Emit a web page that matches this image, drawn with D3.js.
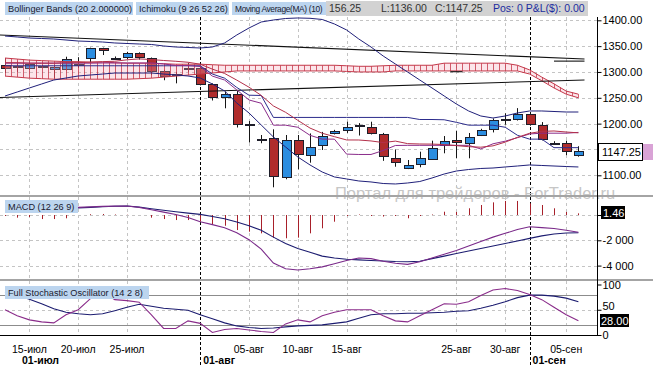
<!DOCTYPE html>
<html>
<head>
<meta charset="utf-8">
<script src="https://cdn.jsdelivr.net/npm/d3@7/dist/d3.min.js"></script>
<style>
body{margin:0;background:#fff}
#chart{display:block;font-family:"Liberation Sans",Arial,sans-serif}
</style>
</head>
<body>
<svg id="chart" width="653" height="365"></svg>
<script>
// daily bars, index 0..47
var openP=[1313.5,1311,1307,1311,1305.7,1305.7,1315,1326.5,1345.8,1327,1328.4,1336,1326.5,1302,1296,1307,1307,1276,1251,1256.8,1199,1170,1171.6,1097.3,1168.3,1140.6,1158.6,1181,1187.7,1197,1193,1179.3,1134,1114.7,1121.9,1132.9,1158.6,1168.3,1164,1178,1189,1208,1208.4,1218.6,1197.4,1163,1162,1139.5]
var highP=[1327,1320,1318,1313,1312,1329.5,1328.6,1347,1347,1330,1339,1338,1328,1304,1300,1317,1309,1278,1262,1263,1205,1178,1189,1178,1178,1181,1184,1188,1203.7,1201,1203.7,1182,1150,1129.6,1145.7,1167,1176,1186.3,1181.9,1190,1210,1220,1230,1222,1203,1166,1167,1156.25]
var lowP=[1298,1300,1304,1308,1287.7,1303,1308,1316.8,1332.8,1325,1325,1324,1294,1284,1278,1300,1274,1244.8,1229.7,1192.5,1163.5,1162,1076.8,1092.3,1111.6,1124.4,1149,1179,1182,1177,1179,1128,1116.6,1112,1115.5,1130,1142.6,1132.9,1132.9,1176,1183,1198,1206,1196,1167.5,1160,1139,1136]
var closeP=[1308.3,1310,1315,1310,1310,1324.5,1314,1345.8,1342,1327.5,1336,1328.4,1301.9,1291.6,1295,1306,1276,1251,1257.4,1198.7,1198.5,1169,1097.3,1168.3,1140.6,1155.4,1176,1185,1194,1197.5,1181,1137.4,1126.3,1120,1132.9,1153.4,1167,1164,1174.7,1187.7,1207,1209,1218.6,1198.7,1169.7,1162,1147,1147.25]

var upperBB=[1369.6,1367.7,1365.7,1364.8,1363.8,1361.9,1359.9,1359.0,1358.0,1356.1,1355.1,1354.1,1353.2,1350.3,1348.3,1347.4,1346.4,1348.3,1356.1,1371.6,1385.1,1396.7,1400.6,1403.5,1404.5,1403.9,1401.6,1392.9,1381.3,1363.8,1348.3,1330.9,1315.4,1299.9,1284.4,1269.0,1253.5,1238.0,1224.5,1214.8,1210.9,1214.8,1220.6,1224.5,1224.5,1223.5,1222.5,1222.5]
var lowerBB=[1253.5,1261.2,1269.0,1276.7,1284.4,1288.3,1292.2,1294.1,1296.0,1298.0,1298.0,1298.0,1298.0,1296.0,1294.1,1292.2,1288.3,1276.7,1263.2,1239.9,1220.6,1197.4,1174.2,1154.8,1135.5,1120.0,1106.4,1096.8,1092.9,1089.0,1087.1,1084.1,1083.2,1085.1,1088.0,1094.8,1102.5,1108.3,1111.2,1113.2,1114.1,1116.1,1118.0,1120.0,1119.0,1118.0,1117.0,1116.1]
var tenkan=[1317,1317,1317,1317,1317,1317,1317,1317,1317.4,1317.4,1317.4,1317.4,1317.4,1315.5,1312.5,1312.5,1310.5,1292,1284.4,1265.3,1245.8,1239.5,1197,1197,1193,1177.4,1170,1170,1141,1140.3,1140.3,1148,1157.7,1158,1158,1158,1158,1158,1158,1151,1161,1166,1172.8,1180,1181.5,1181.5,1181.5,1183]
var kijun=[1312,1312,1312,1312,1312,1312,1312,1312,1312,1312,1312,1312,1312,1312,1312,1312,1312,1296,1288,1270,1255,1254.5,1212,1212,1212,1212,1212,1212,1212,1212,1212,1212,1212,1212,1208,1208,1207.5,1202.5,1197,1197,1197,1193,1177.5,1170,1170,1153.5,1153.5,1153.5]
var ma10=[1318,1318,1317,1317,1317,1318,1318,1319,1320,1320.7,1323.5,1325.3,1324,1322.2,1320.7,1318.8,1315,1305.5,1297.1,1284.2,1270.5,1254.7,1234.2,1221.9,1206.4,1191.4,1181.4,1174.8,1168.4,1168.3,1166.5,1163.3,1166.2,1161.3,1160.6,1160.4,1159.5,1157.4,1155.4,1154.4,1157,1164.2,1173.4,1181.3,1185,1185.8,1183.8,1182.2]
var cloudA=[1327,1325,1323,1322,1321,1320,1320,1319,1319,1318,1317,1317,1317,1316,1315,1315,1315,1314,1313,1313,1313,1313,1313,1313,1313,1313,1313,1313,1312,1311,1311,1312,1313,1313,1313,1313,1317,1317,1317,1317,1317,1317,1313,1304,1290,1277,1263,1257]
var cloudB=[1292,1290,1288,1287,1286,1286,1286,1286,1286,1286,1286,1287,1288,1290,1292,1294,1296,1298,1300,1302,1302,1302,1302,1302,1302,1302,1302,1302,1301,1300,1300,1300,1302,1302,1302,1302,1302,1302,1302,1302,1302,1302,1302,1296,1283,1269,1257,1250]
// [fromIndex, fromPrice, toIndex, toPrice]
var trendLines=[[-0.45,1371.6,47.5,1325.1],[-0.45,1250.6,47.5,1284.5],[36.5,1300.5,37.5,1300.5],[45,1321,47.5,1321]]

var macdLine=[700,680,660,640,620,600,600,640,680,700,710,600,420,230,40,-200,-530,-760,-1000,-1400,-1950,-2700,-3800,-4250,-4350,-4250,-4100,-3850,-3600,-3400,-3450,-3650,-3820,-3900,-3700,-3400,-3100,-2800,-2450,-2100,-1750,-1450,-1150,-930,-1000,-1070,-1200,-1370]
var signalLine=[850,800,740,690,640,600,560,600,650,690,710,620,500,380,260,150,50,-120,-300,-550,-850,-1200,-1750,-2250,-2650,-2950,-3250,-3400,-3500,-3550,-3600,-3640,-3680,-3690,-3660,-3450,-3250,-3050,-2850,-2650,-2450,-2250,-2050,-1850,-1650,-1500,-1420,-1400]
var macdHist=[-80,-210,-160,-320,-320,-260,0,60,80,40,20,0,-210,-320,-400,-400,-530,-740,-850,-1190,-1320,-1450,-1790,-1840,-1790,-1450,-1050,-530,-80,40,-80,-120,-80,-260,-80,40,260,240,530,790,1000,1110,1110,920,790,530,240,130]

var stochK=[50,38,30,26,24,40,50,72,85,70,68,65,40,13,13,28,23,5,11,13,10,7,5,22,30,26,38,45,50,50,50,38,28,26,38,50,62,61,66,78,89,92,88,80,70,55,40,28]
var stochD=[85,79,71,62,52,45,42,40,42,48,55,61,57,53,51,49,40,32,24,18,15,13,14,16,18,19,20,23,26,33,40,42,42,43,43,44,45,47,48,53,59,66,74,79,79,77,73,66]

var dayIdx=[2,6,10,20,24,28,37,41,46]
var dayLabels=["15-июл","20-июл","25-июл","05-авг","10-авг","15-авг","25-авг","30-авг","05-сен"]
var monthIdx=[1.15,16,43]
var monthLabels=["01-июл","01-авг","01-сен"]
var monthLine=[false,true,true]

var svg=d3.select('#chart')
var axisX=597
var xS=d3.scaleLinear().domain([0,47]).range([5,578.4])
var yP=d3.scaleLinear().domain([1100,1400]).range([175.3,20.3])
var yM=d3.scaleLinear().domain([-4000,0]).range([265.6,215])
var yS=d3.scaleLinear().domain([0,100]).range([335,284.5])
var ru=d3.formatLocale({decimal:",",thousands:"\u00a0",grouping:[3],currency:["",""],minus:"-"})
var px=function(v){return Math.round(v)+0.5}

var defs=svg.append('defs')
function clip(id,y0,y1)
{
    defs.append('clipPath').attr('id',id).append('rect').attr('x',0).attr('y',y0).attr('width',axisX).attr('height',y1-y0)
}
clip('cp',17,195); clip('cm',197,279); clip('cs',281,335)

// horizontal grid
var grid=svg.append('g').attr('stroke','#c4c4c4').attr('stroke-dasharray','3,3')
grid.selectAll('.hp').data(d3.range(1100,1401,50)).enter().append('line')
    .attr('x1',0).attr('x2',axisX).attr('y1',function(d){return px(yP(d))}).attr('y2',function(d){return px(yP(d))})
grid.selectAll('.hm').data([0,-2000,-4000]).enter().append('line')
    .attr('x1',0).attr('x2',axisX).attr('y1',function(d){return px(yM(d))}).attr('y2',function(d){return px(yM(d))})
grid.append('line').attr('x1',0).attr('x2',axisX).attr('y1',px(yS(50))).attr('y2',px(yS(50)))
svg.selectAll('.sl').data([80,20]).enter().append('line')
    .attr('x1',0).attr('x2',axisX).attr('y1',function(d){return px(yS(d))}).attr('y2',function(d){return px(yS(d))})
    .attr('stroke','#8c8c8c')

// vertical grid
grid.selectAll('.v').data(dayIdx).enter().append('line')
    .attr('x1',function(d){return px(xS(d))}).attr('x2',function(d){return px(xS(d))})
    .attr('y1',17).attr('y2',335)
svg.selectAll('.mv').data(monthIdx.filter(function(d,i){return monthLine[i]})).enter().append('line')
    .attr('x1',function(d){return px(xS(d))}).attr('x2',function(d){return px(xS(d))})
    .attr('y1',17).attr('y2',365).attr('stroke','#000').attr('stroke-dasharray','3,2')

// watermark
svg.append('text').attr('x',335).attr('y',199).attr('font-size','16.5px').attr('fill','#c6c6c6')
    .text('Портал для трейдеров - ForTrader.ru')

// candles
var price=svg.append('g').attr('clip-path','url(#cp)')
var idx=d3.range(openP.length)
price.selectAll('.wick').data(idx).enter().append('line')
    .attr('x1',function(d){return px(xS(d))}).attr('x2',function(d){return px(xS(d))})
    .attr('y1',function(d){return yP(highP[d])}).attr('y2',function(d){return yP(lowP[d])})
    .attr('stroke','#151515')
price.selectAll('.body').data(idx).enter().append('rect')
    .attr('x',function(d){return Math.round(xS(d))-4+0.5})
    .attr('width',9)
    .attr('y',function(d){return Math.round(yP(Math.max(openP[d],closeP[d])))+0.5})
    .attr('height',function(d){return Math.max(1,Math.round(Math.abs(yP(openP[d])-yP(closeP[d]))))})
    .attr('fill',function(d){return closeP[d]>=openP[d]?'#2b8de0':'#b02c2c'})
    .attr('stroke','#1e1e2a')

// ichimoku cloud
var cloudArea=d3.area().x(function(d){return xS(d)}).y0(function(d){return yP(cloudA[d])}).y1(function(d){return yP(cloudB[d])})
price.append('path').datum(idx).attr('d',cloudArea).attr('fill','#f4a8b8').attr('fill-opacity',0.3)
var hatch=d3.range(0,47.01,0.5)
price.selectAll('.hatch').data(hatch).enter().append('line')
    .attr('x1',function(d){return px(xS(d))}).attr('x2',function(d){return px(xS(d))})
    .attr('y1',function(d){var a=Math.floor(d),b=Math.ceil(d);return yP((cloudA[a]+cloudA[b])/2)})
    .attr('y2',function(d){var a=Math.floor(d),b=Math.ceil(d);return yP((cloudB[a]+cloudB[b])/2)})
    .attr('stroke','#c4384a').attr('stroke-width',0.8)
;[cloudA,cloudB].forEach(function(s)
{
    price.append('path').datum(idx).attr('fill','none').attr('stroke','#c4384a')
        .attr('d',d3.line().x(function(d){return xS(d)}).y(function(d){return yP(s[d])}))
})

// indicator lines on price
function plot(g,series,ys,col,w)
{
    g.append('path').datum(idx).attr('fill','none').attr('stroke',col).attr('stroke-width',w||1)
        .attr('d',d3.line().x(function(d){return xS(d)}).y(function(d){return ys(series[d])}))
}
price.selectAll('.trend').data(trendLines).enter().append('line')
    .attr('x1',function(d){return xS(d[0])}).attr('y1',function(d){return yP(d[1])})
    .attr('x2',function(d){return xS(d[2])}).attr('y2',function(d){return yP(d[3])})
    .attr('stroke','#111').attr('stroke-width',1.1)
plot(price,upperBB,yP,'#20207a')
plot(price,lowerBB,yP,'#20207a')
plot(price,kijun,yP,'#2c2c8c')
plot(price,tenkan,yP,'#8a2c8a')
plot(price,ma10,yP,'#b3304a')

// MACD panel
var macd=svg.append('g').attr('clip-path','url(#cm)')
macd.selectAll('.hist').data(idx).enter().append('line')
    .attr('x1',function(d){return px(xS(d))}).attr('x2',function(d){return px(xS(d))})
    .attr('y1',yM(0)).attr('y2',function(d){return yM(macdHist[d])})
    .attr('stroke','#a8202a')
plot(macd,signalLine,yM,'#1c1c70',1.1)
plot(macd,macdLine,yM,'#7a2a8a',1.1)

// stochastic panel
var sto=svg.append('g').attr('clip-path','url(#cs)')
plot(sto,stochD,yS,'#1c1c70',1.1)
plot(sto,stochK,yS,'#8a2c8a',1.1)

// separators and frame
svg.selectAll('.sep').data([195,279]).enter().append('rect')
    .attr('x',0).attr('y',function(d){return d}).attr('width',653).attr('height',2).attr('fill','#a4a4a4')
svg.append('line').attr('x1',0).attr('x2',axisX).attr('y1',335.5).attr('y2',335.5).attr('stroke','#000')
svg.append('line').attr('x1',axisX+0.5).attr('x2',axisX+0.5).attr('y1',17).attr('y2',336).attr('stroke','#000')

// right axes; labels covered by the value boxes are left out
function rightAxis(scale,major,minor,fmt,hide)
{
    var g=svg.append('g').attr('transform','translate('+(axisX+0.5)+',0)')
    g.call(d3.axisRight(scale).tickValues(minor).tickSize(2).tickFormat(''))
    g.call(d3.axisRight(scale).tickValues(major).tickSize(4).tickPadding(1)
        .tickFormat(function(d){return d===hide?'':fmt(d)}))
    g.selectAll('.domain').remove()
    g.selectAll('text').attr('font-size','11px').attr('font-family','"Liberation Sans",Arial,sans-serif').attr('fill','#000')
    return g
}
rightAxis(yP,d3.range(1100,1401,50),d3.range(1075,1401,25),d3.format('.2f'),1150)
rightAxis(yM,[0,-2000,-4000],[1000,0,-1000,-2000,-3000,-4000],ru.format(','),0)
var sAx=rightAxis(yS,[0,50,100],[0,25,50,75,100],d3.format('d'))
sAx.selectAll('.tick').filter(function(d){return d===50}).select('text').attr('dy','-0.05em')

// last value boxes
svg.append('rect').attr('x',598.5).attr('y',143.5).attr('width',44).attr('height',17).attr('fill','#fff').attr('stroke','#000')
svg.append('rect').attr('x',643).attr('y',144).attr('width',10).attr('height',16).attr('fill','#d9a3d6')
svg.append('text').attr('x',602).attr('y',156).attr('font-size','11px').text(d3.format('.2f')(closeP[47]))
svg.append('rect').attr('x',601).attr('y',206).attr('width',24).attr('height',13).attr('fill','#000')
svg.append('text').attr('x',603).attr('y',216.5).attr('font-size','11px').attr('fill','#fff').text('1.46')
svg.append('rect').attr('x',600).attr('y',314).attr('width',29).attr('height',13).attr('fill','#000')
svg.append('text').attr('x',601).attr('y',324.5).attr('font-size','11px').attr('fill','#fff').text(d3.format('.2f')(stochK[47]))

// x labels
svg.selectAll('.dl').data(dayIdx).enter().append('text')
    .attr('x',function(d){return xS(d)}).attr('y',353).attr('text-anchor','middle').attr('font-size','10.5px')
    .text(function(d,i){return dayLabels[i]})
svg.selectAll('.ml').data(monthIdx).enter().append('text')
    .attr('x',function(d){return xS(d)+3}).attr('y',364).attr('font-size','10.5px').attr('font-weight','bold')
    .text(function(d,i){return monthLabels[i]})

// header
svg.append('rect').attr('x',326).attr('y',1).attr('width',262).attr('height',15).attr('fill','#d2d2d2')
var hdr=svg.append('g').attr('font-size','10.5px')
hdr.append('text').attr('x',329).attr('y',12).attr('fill','#333').text('156.25')
hdr.append('text').attr('x',381).attr('y',12).attr('fill','#333').text('L:1136.00')
hdr.append('text').attr('x',435).attr('y',12).attr('fill','#333').text('C:1147.25')
hdr.append('text').attr('x',493).attr('y',12).attr('fill','#1c2ca0').text('Pos: 0 P&L($): 0.00')

function tag(x,y,w,label,fs,ls)
{
    svg.append('rect').attr('x',x).attr('y',y).attr('width',w).attr('height',13).attr('fill','#bcd5ef')
    svg.append('text').attr('x',x+3).attr('y',y+10).attr('font-size',fs+'px').attr('letter-spacing',ls+'px')
        .attr('fill','#1a1a30').text(label)
}
tag(5,2,128,'Bollinger Bands (20 2.000000)',9.2,0)
tag(136,2,93,'Ichimoku (9 26 52 26)',9.2,0)
tag(232,2,94,'Moving Average(MA) (10)',8.4,-0.35)
tag(5,200,73,'MACD (12 26 9)',9.2,0)
tag(5,286,144,'Full Stochastic Oscillator (14 2 8)',9.2,0)
</script>
</body>
</html>
